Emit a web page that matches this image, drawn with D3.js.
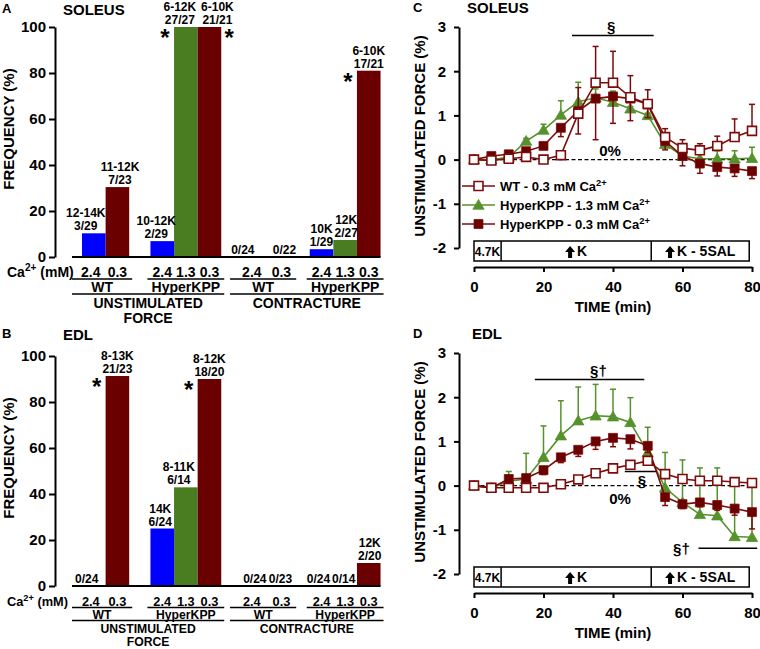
<!DOCTYPE html>
<html>
<head>
<meta charset="utf-8">
<script src="https://cdn.jsdelivr.net/npm/d3@7"></script>
<style>
  body { margin: 0; background: #fff; }
  svg { font-family: "Liberation Sans", Arial, sans-serif; font-weight: bold; }
</style>
</head>
<body>
<svg id="fig" width="760" height="649"></svg>
<script>
// ---- bar panels (A, B) ----
const barCa = ["2.4", "0.3", "2.4", "1.3", "0.3", "2.4", "0.3", "2.4", "1.3", "0.3"];
const freqTicks = [0, 20, 40, 60, 80, 100];

const solFreq = [10.3, 30.4, 6.9, 100, 100, 0, 0, 3.4, 7.4, 81.0];
const solRange = ["12-14K", "11-12K", "10-12K", "6-12K", "6-10K", "", "", "10K", "12K", "6-10K"];
const solCount = ["3/29", "7/23", "2/29", "27/27", "21/21", "0/24", "0/22", "1/29", "2/27", "17/21"];
const solStar = ["", "", "", "left", "right", "", "", "", "", "left"];

const edlFreq = [0, 91.3, 25.0, 42.9, 90.0, 0, 0, 0, 0, 10.0];
const edlRange = ["", "8-13K", "14K", "8-11K", "8-12K", "", "", "", "", "12K"];
const edlCount = ["0/24", "21/23", "6/24", "6/14", "18/20", "0/24", "0/23", "0/24", "0/14", "2/20"];
const edlStar = ["", "left", "", "", "left", "", "", "", "", ""];

// ---- time course panels (C, D) ----
const timeMin = [0, 5, 10, 15, 20, 25, 30, 35, 40, 45, 50, 55, 60, 65, 70, 75, 80];
const timeTicks = [0, 20, 40, 60, 80];
const forceTicks = [-2, -1, 0, 1, 2, 3];

const solWT03 = [0, -0.02, 0.02, 0.06, 0, 0.1, 1.04, 1.74, 1.74, 1.41, 1.26, 0.51, 0.26, 0.21, 0.31, 0.51, 0.65];
const solWT03Err = [0, 0.02, 0.02, 0.02, 0.03, 0.05, 0.59, 0.82, 0.71, 0.49, 0.32, 0.19, 0.19, 0.15, 0.22, 0.41, 0.6];
const solHyp13 = [0, 0, 0.05, 0.42, 0.67, 1.01, 1.31, 1.4, 1.3, 1.15, 1.0, 0.35, 0.08, 0.02, 0.02, 0.02, 0.03];
const solHyp13Err = [0, 0, 0.02, 0.06, 0.13, 0.32, 0.44, 0.2, 0.25, 0.05, 0.05, 0.1, 0.07, 0.13, 0.18, 0.18, 0.25];
const solHyp03 = [0, 0.08, 0.12, 0.19, 0.31, 0.72, 1.1, 1.38, 1.43, 1.38, 1.25, 0.42, 0.08, -0.09, -0.17, -0.2, -0.26];
const solHyp03Err = [0, 0.02, 0.03, 0.04, 0.05, 0.2, 0.52, 0.93, 0.61, 0.5, 0.3, 0.2, 0.22, 0.22, 0.2, 0.18, 0.17];

const edlWT03 = [0, -0.05, -0.05, -0.05, -0.05, 0.03, 0.14, 0.28, 0.39, 0.47, 0.56, 0.26, 0.15, 0.11, 0.11, 0.08, 0.06];
const edlWT03Err = [0, 0.02, 0.02, 0.02, 0.02, 0.03, 0.04, 0.05, 0.06, 0.07, 0.08, 0.06, 0.06, 0.05, 0.05, 0.05, 0.05];
const edlHyp13 = [0, -0.05, 0.1, 0.15, 0.64, 1.13, 1.47, 1.58, 1.56, 1.43, 0.75, -0.05, -0.38, -0.65, -0.68, -1.15, -1.17];
const edlHyp13Err = [0, 0.02, 0.22, 0.58, 0.71, 0.79, 0.76, 0.71, 0.62, 0.56, 0.57, 0.8, 0.96, 1.05, 1.08, 1.3, 1.28];
const edlHyp03 = [0, -0.05, 0.15, 0.17, 0.35, 0.64, 0.81, 1.0, 1.08, 1.05, 0.9, -0.26, -0.42, -0.38, -0.44, -0.52, -0.6];
const edlHyp03Err = [0, 0.02, 0.05, 0.05, 0.1, 0.12, 0.15, 0.18, 0.2, 0.22, 0.15, 0.19, 0.1, 0.1, 0.12, 0.15, 0.38];

const legendNames = { wt: "WT - 0.3 mM Ca", h13: "HyperKPP - 1.3 mM Ca", h03: "HyperKPP - 0.3 mM Ca" };
const legendOrder = ["wt", "h13", "h03"];

// ---- layout (not data) ----
const slotPos = [0, 1, 2.9, 3.9, 4.9, 6.4, 7.95, 9.65, 10.65, 11.65];
const solLabelDx = [-8, 2.6, -6, -6, 8, -2, 3, 0, 1, 0];
const edlLabelDx = [-7, 0, -2, -7, 0, 10, -1, -3, -1.5, 1];
const caDx = [-3, 0, 0, 0, 0, 7, 0, 0, 0, 0];

const RED = "#6b0000", GREEN = "#4a7d22", BLUE = "#0000ff";
const LRED = "#7d0b0b", LGREEN = "#55922c";
const caColor = { "2.4": BLUE, "1.3": GREEN, "0.3": RED };

const svg = d3.select("#fig");

function supText(g, x, y, main, sup, tail, size, anchor, rise) {
  const r = rise || 0.42;
  const t = g.append("text").attr("x", x).attr("y", y).attr("font-size", size)
    .attr("text-anchor", anchor || "start");
  t.append("tspan").text(main);
  t.append("tspan").attr("font-size", size * 0.72).attr("dy", -size * r).text(sup);
  if (tail) t.append("tspan").attr("dy", size * r).text(tail);
  return t;
}

const xs = d3.scaleLinear().domain([0, 1]).range([82, 105.6]);
const barW = xs(1) - xs(0);

function barPanel(cfg) {
  const g = svg.append("g");
  const y = d3.scaleLinear().domain([0, 100]).range([cfg.base, cfg.base - 230]);

  g.append("text").attr("x", 2).attr("y", cfg.letterY).attr("font-size", 13).text(cfg.letter);
  g.append("text").attr("x", 63).attr("y", cfg.letterY + 2).attr("font-size", 15).text(cfg.title);

  const ax = g.append("g").attr("transform", "translate(55,0)")
    .call(d3.axisLeft(y).tickValues(freqTicks).tickSize(6).tickSizeOuter(0).tickPadding(3));
  ax.selectAll("path,line").attr("stroke", "#000").attr("stroke-width", 2);
  ax.selectAll("text").attr("font-size", 15).attr("font-family", "Liberation Sans, Arial")
    .attr("font-weight", "bold").attr("fill", "#000");

  g.append("text")
    .attr("transform", `translate(14,${cfg.base - 128}) rotate(-90)`)
    .attr("text-anchor", "middle").attr("font-size", 15).text("FREQUENCY (%)");

  // bars
  g.selectAll("rect.bar").data(cfg.freq).join("rect")
    .attr("x", (d, i) => xs(slotPos[i]))
    .attr("width", barW)
    .attr("y", d => y(d))
    .attr("height", d => y(0) - y(d))
    .attr("fill", (d, i) => caColor[barCa[i]]);

  g.append("line").attr("x1", 72).attr("x2", xs(slotPos[9] + 1)).attr("y1", y(0)).attr("y2", y(0))
    .attr("stroke", "#000").attr("stroke-width", 2);

  // value labels
  cfg.freq.forEach((v, i) => {
    const cx = xs(slotPos[i] + 0.5) + cfg.labelDx[i];
    const top = y(v);
    if (cfg.range[i]) g.append("text").attr("x", cx).attr("y", top - 16).attr("text-anchor", "middle")
      .attr("font-size", 12).text(cfg.range[i]);
    g.append("text").attr("x", cx).attr("y", top - 3).attr("text-anchor", "middle")
      .attr("font-size", 12).text(cfg.count[i]);
    if (cfg.star[i]) {
      const sx = cfg.star[i] === "left" ? xs(slotPos[i]) - 9 : xs(slotPos[i] + 1) + 8;
      g.append("text").attr("x", sx).attr("y", top + 19).attr("text-anchor", "middle")
        .attr("font-size", 24).text("*");
    }
  });

  // category rows
  const b = y(0), r = cfg.rows, fs = cfg.rowFont, cf = cfg.caFont;
  supText(g, 7, b + r[0], "Ca", "2+", " (mM)", cf, "start", cfg.supRise);
  barCa.forEach((c, i) => {
    g.append("text").attr("x", xs(slotPos[i] + 0.5) + caDx[i]).attr("y", b + r[0])
      .attr("text-anchor", "middle").attr("font-size", cf).text(c);
  });
  const groups = [
    { name: "WT", from: 0, to: 1 }, { name: "HyperKPP", from: 2, to: 4 },
    { name: "WT", from: 5, to: 6 }, { name: "HyperKPP", from: 7, to: 9 }
  ];
  groups.forEach((gr, k) => {
    const x1 = k === 0 ? 72 : xs(slotPos[gr.from]) - 3, x2 = xs(slotPos[gr.to] + 1) + 3;
    g.append("line").attr("x1", x1).attr("x2", x2).attr("y1", b + r[1]).attr("y2", b + r[1])
      .attr("stroke", "#000").attr("stroke-width", 1.5);
    g.append("text").attr("x", (x1 + x2) / 2).attr("y", b + r[2]).attr("text-anchor", "middle")
      .attr("font-size", fs).text(gr.name);
  });
  const tops = [
    { lines: ["UNSTIMULATED", "FORCE"], from: 0, to: 4 },
    { lines: ["CONTRACTURE"], from: 5, to: 9 }
  ];
  tops.forEach((gr, k) => {
    const x1 = k === 0 ? 72 : xs(slotPos[gr.from]) - 3, x2 = xs(slotPos[gr.to] + 1) + 3;
    g.append("line").attr("x1", x1).attr("x2", x2).attr("y1", b + r[3]).attr("y2", b + r[3])
      .attr("stroke", "#000").attr("stroke-width", 1.5);
    gr.lines.forEach((ln, j) => {
      g.append("text").attr("x", (x1 + x2) / 2).attr("y", b + r[4] + j * r[5])
        .attr("text-anchor", "middle").attr("font-size", fs).text(ln);
    });
  });
}

barPanel({ letter: "A", title: "SOLEUS", letterY: 13, base: 257, freq: solFreq, range: solRange,
  count: solCount, star: solStar, labelDx: solLabelDx, rows: [20, 22, 35, 37, 51, 15],
  rowFont: 14, caFont: 14 });
barPanel({ letter: "B", title: "EDL", letterY: 338, base: 586, freq: edlFreq, range: edlRange,
  count: edlCount, star: edlStar, labelDx: edlLabelDx, rows: [19.5, 21.5, 33.2, 34.5, 46.7, 13.5],
  rowFont: 12.2, caFont: 12.8, supRise: 0.34 });

// ---- time panels ----
const xT = d3.scaleLinear().domain([0, 80]).range([474, 752]);

function upArrow(g, cx, baseY) {
  const t = baseY - 11;
  g.append("path").attr("fill", "#000")
    .attr("d", `M${cx},${t} L${cx + 5},${t + 6} L${cx + 2},${t + 6} L${cx + 2},${t + 12} L${cx - 2},${t + 12} L${cx - 2},${t + 6} L${cx - 5},${t + 6} Z`);
}

function marker(s) {
  return s.shape === "triangle" ? d3.symbol(d3.symbolTriangle, 55) : d3.symbol(d3.symbolSquare, 80);
}

function timePanel(cfg) {
  const g = svg.append("g");
  const y = d3.scaleLinear().domain([-2, 3]).range([cfg.bottom, cfg.bottom - 221]);

  g.append("text").attr("x", 413).attr("y", cfg.letterY).attr("font-size", 13).text(cfg.letter);
  g.append("text").attr("x", cfg.titleX).attr("y", cfg.letterY + 1).attr("font-size", 15).text(cfg.title);

  const ay = g.append("g").attr("transform", "translate(459,0)")
    .call(d3.axisLeft(y).tickValues(forceTicks).tickFormat(d => String(d))
      .tickSize(5).tickSizeOuter(0).tickPadding(8));
  const axisY = cfg.bottom + 19;
  const axx = g.append("g").attr("transform", `translate(0,${axisY})`)
    .call(d3.axisBottom(xT).tickValues(timeTicks).tickSize(5).tickSizeOuter(0).tickPadding(9));
  [ay, axx].forEach(a => {
    a.selectAll("path,line").attr("stroke", "#000").attr("stroke-width", 2);
    a.selectAll("text").attr("font-size", 15).attr("font-family", "Liberation Sans, Arial")
      .attr("font-weight", "bold").attr("fill", "#000");
  });
  g.append("text").attr("x", xT(40)).attr("y", axisY + 45).attr("text-anchor", "middle")
    .attr("font-size", 15).text("TIME (min)");
  g.append("text")
    .attr("transform", `translate(425,${cfg.bottom - 112}) rotate(-90)`)
    .attr("text-anchor", "middle").attr("font-size", 15).text("UNSTIMULATED FORCE (%)");

  // protocol box
  const by = cfg.bottom - 7;
  g.append("rect").attr("x", xT(0)).attr("y", by).attr("width", xT(79.2) - xT(0)).attr("height", 20)
    .attr("fill", "#fff").attr("stroke", "#000").attr("stroke-width", 1.5);
  [7.8, 51].forEach(t => g.append("line").attr("x1", xT(t)).attr("x2", xT(t))
    .attr("y1", by).attr("y2", by + 20).attr("stroke", "#000").attr("stroke-width", 1.5));
  g.append("text").attr("x", (xT(0) + xT(7.8)) / 2).attr("y", by + 15).attr("text-anchor", "middle")
    .attr("font-size", 12).text("4.7K");
  [[7.8, 51, "K"], [51, 79.2, "K - 5SAL"]].forEach(([a, bb, label]) => {
    const t = g.append("text").attr("y", by + 15).attr("font-size", 14).text(label);
    const w = t.node().getComputedTextLength() + 12;
    const x0 = (xT(a) + xT(bb)) / 2 - w / 2;
    upArrow(g, x0 + 5, by + 16);
    t.attr("x", x0 + 12);
  });

  // zero line
  g.append("line").attr("x1", xT(0)).attr("x2", xT(80)).attr("y1", y(0)).attr("y2", y(0))
    .attr("stroke", "#000").attr("stroke-width", 1.2).attr("stroke-dasharray", "4,2.5");
  g.append("text").attr("x", cfg.zeroLabel[0]).attr("y", y(cfg.zeroLabel[1]) + 5)
    .attr("text-anchor", "middle").attr("font-size", 15).text("0%");

  // significance marks
  cfg.sig.forEach(s => {
    g.append("line").attr("x1", xT(s.t0)).attr("x2", xT(s.t1)).attr("y1", y(s.v)).attr("y2", y(s.v))
      .attr("stroke", "#000").attr("stroke-width", 1.5);
    g.append("text").attr("x", xT(s.tx)).attr("y", y(s.vx)).attr("text-anchor", "middle")
      .attr("font-size", 15).text(s.label);
  });

  // series
  cfg.series.forEach(s => {
    const sg = g.append("g");
    const pts = timeMin.map((t, i) => ({ t, v: s.values[i], e: s.err[i] }));
    sg.selectAll("g.err").data(pts.filter(p => p.e > 0.03)).join("g").each(function (p) {
      const e = d3.select(this);
      const yEnd = y(p.v + s.dir * p.e);
      e.append("line").attr("x1", xT(p.t)).attr("x2", xT(p.t)).attr("y1", y(p.v)).attr("y2", yEnd)
        .attr("stroke", s.color).attr("stroke-width", 1.5);
      e.append("line").attr("x1", xT(p.t) - 3).attr("x2", xT(p.t) + 3).attr("y1", yEnd).attr("y2", yEnd)
        .attr("stroke", s.color).attr("stroke-width", 1.5);
    });
    sg.append("path").datum(pts)
      .attr("d", d3.line().x(p => xT(p.t)).y(p => y(p.v)))
      .attr("fill", "none").attr("stroke", s.color).attr("stroke-width", 1.6);
    sg.selectAll("path.m").data(pts).join("path")
      .attr("transform", p => `translate(${xT(p.t)},${y(p.v) + (s.shape === "triangle" ? 1 : 0)})`)
      .attr("d", marker(s))
      .attr("fill", s.open ? "#fff" : s.fill)
      .attr("stroke", s.color).attr("stroke-width", s.open ? 1.6 : 0.8);
  });

  if (cfg.legend) {
    legendOrder.forEach((key, k) => {
      const s = cfg.series.find(d => d.key === key);
      const ly = cfg.legendY[k];
      g.append("line").attr("x1", 462).attr("x2", 495).attr("y1", ly).attr("y2", ly)
        .attr("stroke", s.color).attr("stroke-width", 1.6);
      g.append("path").attr("transform", `translate(478.5,${ly + (s.shape === "triangle" ? 1 : 0)})`)
        .attr("d", marker(s)).attr("fill", s.open ? "#fff" : s.fill)
        .attr("stroke", s.color).attr("stroke-width", s.open ? 1.6 : 0.8);
      supText(g, 500, ly + 5, legendNames[key], "2+", null, 13);
    });
  }
}

function seriesSet(wt, wtE, h13, h13E, h03, h03E) {
  return [
    { key: "h13", values: h13, err: h13E, color: LGREEN, fill: LGREEN, shape: "triangle", dir: 1 },
    { key: "h03", values: h03, err: h03E, color: LRED, fill: RED, shape: "square", dir: -1 },
    { key: "wt", values: wt, err: wtE, color: LRED, fill: "#fff", open: true, shape: "square", dir: 1 }
  ];
}

timePanel({
  letter: "C", title: "SOLEUS", titleX: 467, letterY: 12, bottom: 248,
  series: seriesSet(solWT03, solWT03Err, solHyp13, solHyp13Err, solHyp03, solHyp03Err),
  zeroLabel: [610, 0.2],
  sig: [{ t0: 28.2, t1: 51.7, v: 2.81, tx: 39.5, vx: 2.88, label: "§" }],
  legend: true, legendY: [186, 205, 224]
});

timePanel({
  letter: "D", title: "EDL", titleX: 472, letterY: 338, bottom: 574,
  series: seriesSet(edlWT03, edlWT03Err, edlHyp13, edlHyp13Err, edlHyp03, edlHyp03Err),
  zeroLabel: [620, -0.3],
  sig: [
    { t0: 17.5, t1: 49, v: 2.4, tx: 35.8, vx: 2.47, label: "§†" },
    { t0: 43.4, t1: 52.6, v: 0.32, tx: 48.3, vx: 0.0, label: "§" },
    { t0: 64.6, t1: 81.5, v: -1.42, tx: 59.7, vx: -1.55, label: "§†" }
  ],
  legend: false
});
</script>
</body>
</html>
